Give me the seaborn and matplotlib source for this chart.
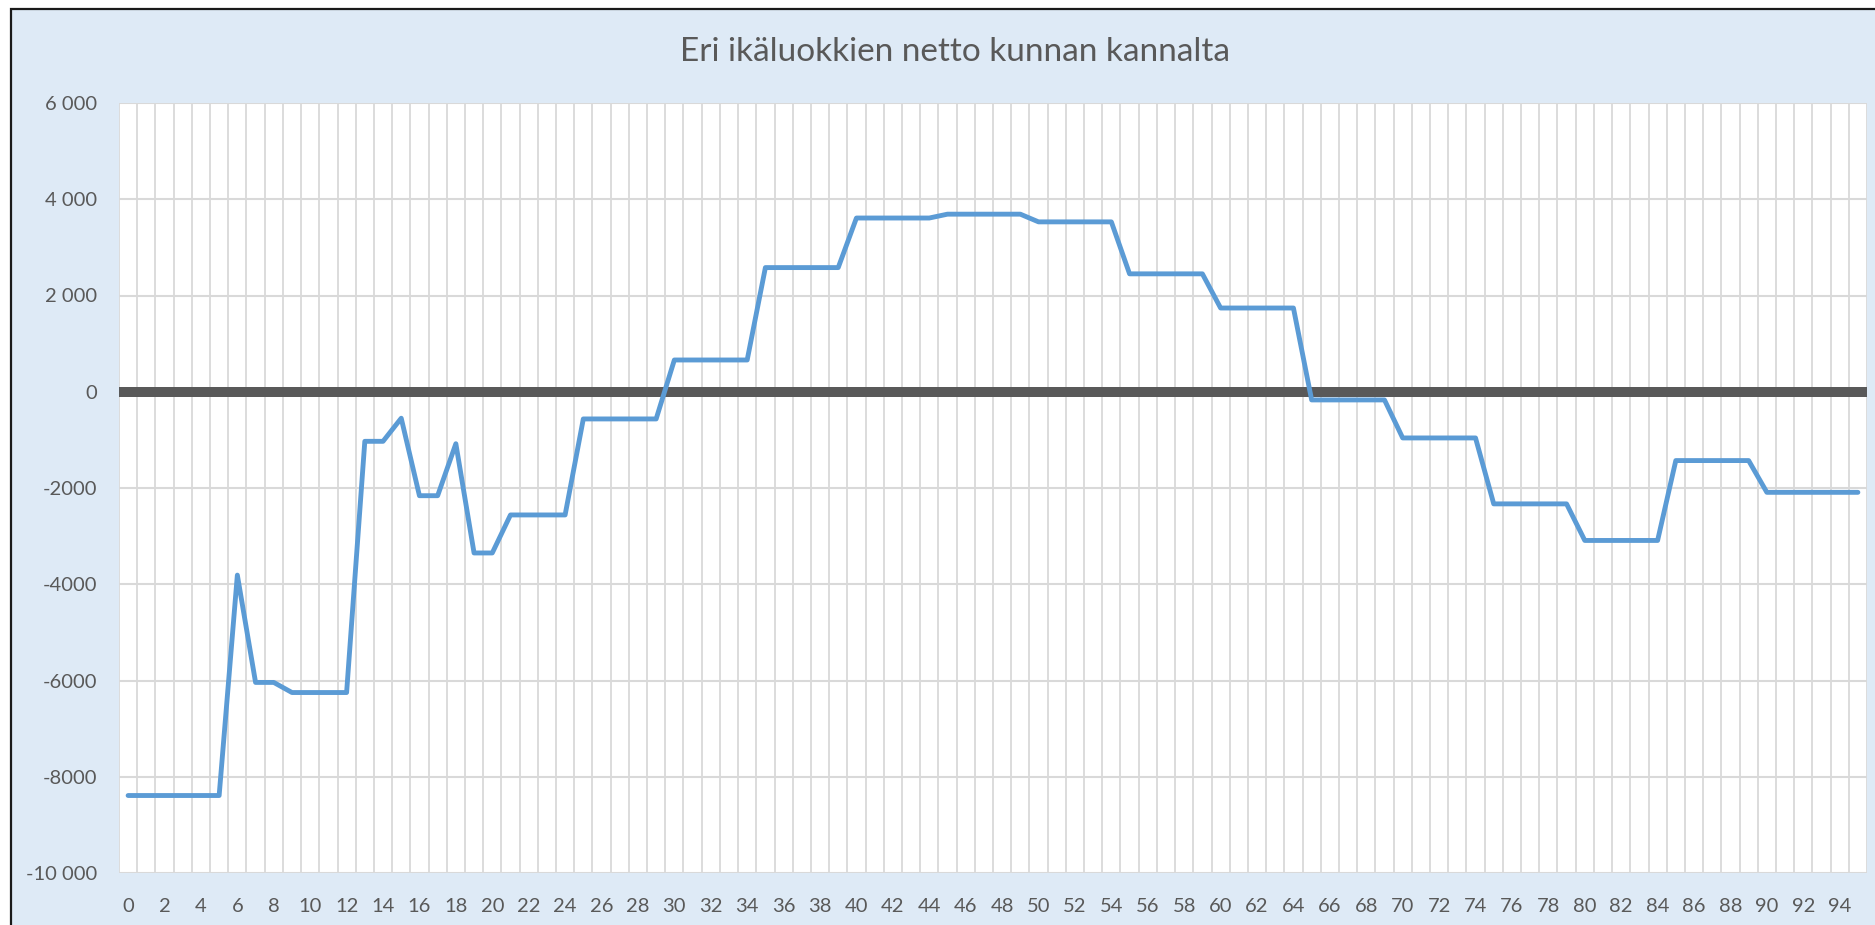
import matplotlib
matplotlib.use("Agg")
import matplotlib.pyplot as plt
from matplotlib.patches import Rectangle
import seaborn as sns
import pandas as pd
import numpy as np

# ---- data ----
ages = list(range(0, 96))
netto = [
    -8390, -8390, -8390, -8390, -8390, -8390,   # 0-5
    -3810,                                     # 6
    -6040, -6040,                              # 7-8
    -6250, -6250, -6250, -6250,                # 9-12
    -1030, -1030,                              # 13-14
    -550,                                      # 15
    -2160, -2160,                              # 16-17
    -1080,                                     # 18
    -3350, -3350,                              # 19-20
    -2560, -2560, -2560, -2560,                # 21-24
    -565, -565, -565, -565, -565,              # 25-29
    660, 660, 660, 660, 660,                   # 30-34
    2580, 2580, 2580, 2580, 2580,              # 35-39
    3610, 3610, 3610, 3610, 3610,              # 40-44
    3690, 3690, 3690, 3690, 3690,              # 45-49
    3530, 3530, 3530, 3530, 3530,              # 50-54
    2450, 2450, 2450, 2450, 2450,              # 55-59
    1740, 1740, 1740, 1740, 1740,              # 60-64
    -170, -170, -170, -170, -170,              # 65-69
    -960, -960, -960, -960, -960,              # 70-74
    -2330, -2330, -2330, -2330, -2330,         # 75-79
    -3090, -3090, -3090, -3090, -3090,         # 80-84
    -1430, -1430, -1430, -1430, -1430,         # 85-89
    -2090, -2090, -2090, -2090, -2090, -2090,  # 90-95
]
y_ticks = [6000, 4000, 2000, 0, -2000, -4000, -6000, -8000, -10000]
y_tick_labels = ["6 000", "4 000", "2 000", "0", "-2000", "-4000", "-6000", "-8000", "-10 000"]
x_tick_values = list(range(0, 96, 2))
title = "Eri ikäluokkien netto kunnan kannalta"

df = pd.DataFrame({"ika": ages, "netto": netto})

sns.set_theme(style="white")
plt.rcParams["font.family"] = ["Lato", "DejaVu Sans"]

BG = "#DEEAF6"
TXT = "#595959"
GRID = "#D9D9D9"
LINE = "#5B9BD5"

fig = plt.figure(figsize=(18.75, 9.25), dpi=100, facecolor="white")
# chart area background with border (top/left visible)
bg = Rectangle((11 / 1875, -0.02), 1.05, 1 - 9 / 925 + 0.02,
               transform=fig.transFigure, facecolor=BG,
               edgecolor="#1a1a1a", linewidth=1.6, zorder=-10)
fig.patches.append(bg)

left, right = 119 / 1875, 1867 / 1875
top, bottom = 1 - 103 / 925, 1 - 873 / 925
ax = fig.add_axes([left, bottom, right - left, top - bottom])
ax.set_zorder(1)
ax.set_facecolor("white")

# grid
for yv in y_ticks:
    ax.axhline(yv, color=GRID, lw=1.5, zorder=1)
for xb in np.arange(-0.5, 96, 1.0):
    ax.axvline(xb, color=GRID, lw=1.3, zorder=1)

ax.axhline(0, color=TXT, lw=7.2, zorder=2, solid_capstyle="butt")

sns.lineplot(data=df, x="ika", y="netto", ax=ax, color=LINE, lw=3.5,
             zorder=3, solid_capstyle="round", solid_joinstyle="round")

ax.set_xlim(-0.5, 95.5)
ax.set_ylim(-10000, 6000)
ax.set_xticks(x_tick_values)
ax.set_xticklabels([str(v) for v in x_tick_values])
ax.set_yticks(y_ticks)
ax.set_yticklabels(y_tick_labels)
ax.tick_params(axis="both", length=0, labelsize=14.5, colors=TXT)
ax.tick_params(axis="x", pad=18)
ax.tick_params(axis="y", pad=16)
ax.set_xlabel("")
ax.set_ylabel("")
for s in ax.spines.values():
    s.set_visible(False)
ax.grid(False)

fig.text(955 / 1875, 1 - 52 / 925, title,
         ha="center", va="center", fontsize=24, color=TXT)

fig.savefig("out.png", dpi=100, facecolor=fig.get_facecolor())
